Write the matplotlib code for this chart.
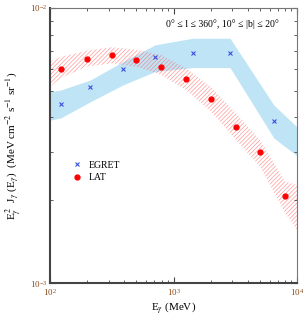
import numpy as np
import matplotlib
matplotlib.use("Agg")
import matplotlib.pyplot as plt

plt.rcParams['font.family'] = ['Liberation Serif', 'DejaVu Serif']
plt.rcParams['mathtext.fontset'] = 'stix'
plt.rcParams['hatch.linewidth'] = 0.5

# EGRET points (MeV, MeV cm^-2 s^-1 sr^-1)
egret_e = [122, 212, 390, 708, 1430, 2866, 6478]
egret_f = [4.47e-3, 5.15e-3, 5.98e-3, 6.64e-3, 6.86e-3, 6.86e-3, 3.87e-3]

# EGRET band
egret_band_e = [100, 122, 212, 390, 708, 1430, 2866, 6478, 10000]
egret_band_hi = [4.96e-3, 5.03e-3, 5.47e-3, 6.38e-3, 7.34e-3, 7.76e-3, 7.76e-3, 4.44e-3, 3.69e-3]
egret_band_lo = [3.91e-3, 3.98e-3, 4.56e-3, 5.25e-3, 5.87e-3, 6.07e-3, 6.07e-3, 3.37e-3, 2.90e-3]

# LAT points
lat_e = [123, 198, 316, 500, 797, 1262, 2012, 3206, 5046, 7995]
lat_f = [6.01e-3, 6.54e-3, 6.77e-3, 6.49e-3, 6.12e-3, 5.53e-3, 4.66e-3, 3.70e-3, 2.99e-3, 2.08e-3]

# LAT band
lat_band_e = [100, 123, 199, 318, 506, 792, 1262, 2012, 3206, 5012, 8000, 10000]
lat_band_hi = [6.38e-3, 6.65e-3, 6.99e-3, 7.20e-3, 7.04e-3, 6.75e-3, 6.04e-3, 5.15e-3, 4.14e-3, 3.31e-3, 2.34e-3, 2.27e-3]
lat_band_lo = [5.17e-3, 5.57e-3, 6.12e-3, 6.29e-3, 6.10e-3, 5.71e-3, 5.03e-3, 4.20e-3, 3.31e-3, 2.65e-3, 1.80e-3, 1.56e-3]

fig = plt.figure(figsize=(3.05, 3.18), dpi=100)
ax = fig.add_axes([0.164, 0.110, 0.810, 0.865])

ax.fill_between(egret_band_e, egret_band_lo, egret_band_hi, color='#bfe4f6', lw=0)
ax.fill_between(lat_band_e, lat_band_lo, lat_band_hi, facecolor='none',
                edgecolor=(1.0, 0.4, 0.4, 0.65), hatch='////////', lw=0)

ax.plot(egret_e, egret_f, 'x', color='#3a4fe0', ms=3.5, mew=0.8, ls='none', label='EGRET')
ax.plot(lat_e, lat_f, 'o', color='#ff0000', ms=3.5, ls='none', label='LAT')

ax.set_xscale('log')
ax.set_yscale('log')
ax.set_xlim(100, 1e4)
ax.set_ylim(1e-3, 1e-2)

ax.tick_params(which='both', direction='in', top=True, right=True,
               labelsize=6.5, labelcolor='#8a4a1a', colors='#444444')
ax.tick_params(which='major', length=4, width=0.8)
ax.tick_params(which='minor', length=2, width=0.6)
ax.tick_params(axis='x', pad=3)
ax.tick_params(axis='y', pad=2)
ax.yaxis.set_minor_formatter(matplotlib.ticker.NullFormatter())

for side in ['left', 'bottom']:
    ax.spines[side].set_linewidth(1.5)
    ax.spines[side].set_color('#444444')
for side in ['top', 'right']:
    ax.spines[side].set_linewidth(0.8)
    ax.spines[side].set_color('#777777')

ax.set_xlabel(r'E$_\gamma$ (MeV)', fontsize=8, labelpad=1)
ax.set_ylabel(r'E$_\gamma^{\,2}$  J$_\gamma$ (E$_\gamma$)  (MeV cm$^{-2}$ s$^{-1}$ sr$^{-1}$)',
              fontsize=8, labelpad=5)

ax.text(0.925, 0.942, '0° ≤ l ≤ 360°, 10° ≤ |b| ≤ 20°', transform=ax.transAxes,
        ha='right', va='center', fontsize=7)

ax.legend(loc='upper left', bbox_to_anchor=(0.06, 0.47), frameon=False,
          fontsize=7, handletextpad=0.8, labelspacing=0.35, handlelength=1.0,
          borderpad=0.2)

fig.savefig('out.png', dpi=100)
